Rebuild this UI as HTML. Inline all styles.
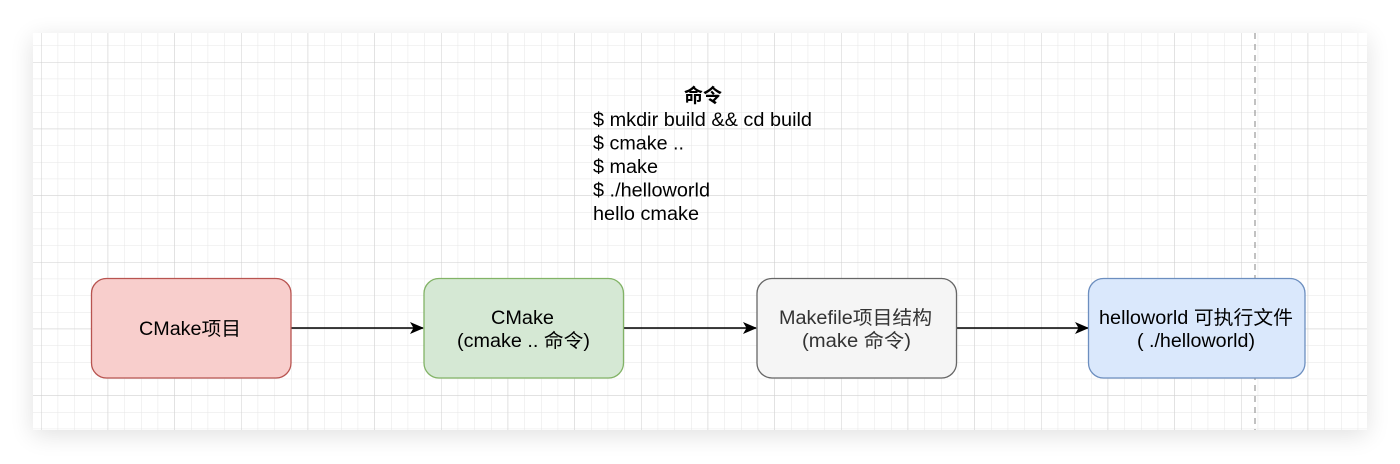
<!DOCTYPE html>
<html><head><meta charset="utf-8"><style>
html,body{margin:0;padding:0;background:#fff;width:1400px;height:464px;overflow:hidden}
svg{display:block}
text{font-family:"Liberation Sans","Noto Sans CJK SC",sans-serif;fill:#000}
</style></head><body>
<svg width="1400" height="464" viewBox="0 0 1400 464" xmlns="http://www.w3.org/2000/svg">
<defs>
<filter id="sh" x="-10%" y="-20%" width="120%" height="140%"><feGaussianBlur stdDeviation="12"/></filter>
<pattern id="minor" x="41" y="62" width="16.667" height="16.667" patternUnits="userSpaceOnUse">
<path d="M0 0H16.667M0 0V16.667" stroke="#e6e6e6" stroke-width="1" fill="none"/></pattern>
<pattern id="major" x="41" y="62" width="66.667" height="66.667" patternUnits="userSpaceOnUse">
<path d="M0 0H66.667M0 0V66.667" stroke="#cfcfcf" stroke-width="1" fill="none"/></pattern>
<marker id="ar" markerWidth="14" markerHeight="12" refX="13" refY="6" orient="auto" markerUnits="userSpaceOnUse">
<path d="M0 0L14 6L0 12L3.5 6Z" fill="#000"/></marker>
</defs>
<rect x="33" y="38" width="1334" height="397" fill="#000" opacity="0.12" filter="url(#sh)"/>
<rect x="33" y="33" width="1334" height="397" fill="#fff"/>
<rect x="33" y="33" width="1334" height="397" fill="url(#minor)"/>
<rect x="33" y="33" width="1334" height="397" fill="url(#major)"/>
<line x1="1255" y1="33" x2="1255" y2="430" stroke="#999" stroke-width="1.2" stroke-dasharray="6,5"/>

<text x="684" y="102" font-size="19" font-weight="bold" textLength="38" lengthAdjust="spacingAndGlyphs">命令</text>
<g font-size="19">
<text x="593" y="126" textLength="219" lengthAdjust="spacingAndGlyphs">$ mkdir build &amp;&amp; cd build</text>
<text x="593" y="149.5" textLength="91" lengthAdjust="spacingAndGlyphs">$ cmake ..</text>
<text x="593" y="173" textLength="65" lengthAdjust="spacingAndGlyphs">$ make</text>
<text x="593" y="196.5" textLength="117" lengthAdjust="spacingAndGlyphs">$ ./helloworld</text>
<text x="593" y="220" textLength="106" lengthAdjust="spacingAndGlyphs">hello cmake</text>
</g>

<line x1="291" y1="328" x2="423" y2="328" stroke="#000" stroke-width="1.5" marker-end="url(#ar)"/>
<line x1="623" y1="328" x2="756" y2="328" stroke="#000" stroke-width="1.5" marker-end="url(#ar)"/>
<line x1="956" y1="328" x2="1088" y2="328" stroke="#000" stroke-width="1.5" marker-end="url(#ar)"/>

<g font-size="19">
<rect x="91.5" y="278.5" width="199.5" height="99.5" rx="15" fill="#f8cecc" stroke="#b85450" stroke-width="1.3"/>
<text x="139" y="335" textLength="102" lengthAdjust="spacingAndGlyphs">CMake项目</text>

<rect x="424" y="278.5" width="199.5" height="99.5" rx="15" fill="#d5e8d4" stroke="#82b366" stroke-width="1.3"/>
<text x="491" y="324" textLength="63" lengthAdjust="spacingAndGlyphs">CMake</text>
<text x="457" y="347" textLength="133" lengthAdjust="spacingAndGlyphs">(cmake .. 命令)</text>

<rect x="757" y="278.5" width="199.5" height="99.5" rx="15" fill="#f5f5f5" stroke="#666666" stroke-width="1.3"/>
<text x="779" y="324" textLength="153" lengthAdjust="spacingAndGlyphs" style="fill:#333">Makefile项目结构</text>
<text x="802" y="347" textLength="109" lengthAdjust="spacingAndGlyphs" style="fill:#333">(make 命令)</text>

<rect x="1088.5" y="278.5" width="216.5" height="99.5" rx="15" fill="#dae8fc" stroke="#6c8ebf" stroke-width="1.3"/>
<text x="1099" y="324" textLength="194" lengthAdjust="spacingAndGlyphs">helloworld 可执行文件</text>
<text x="1137" y="347" textLength="118" lengthAdjust="spacingAndGlyphs">( ./helloworld)</text>
</g>
</svg>
</body></html>
